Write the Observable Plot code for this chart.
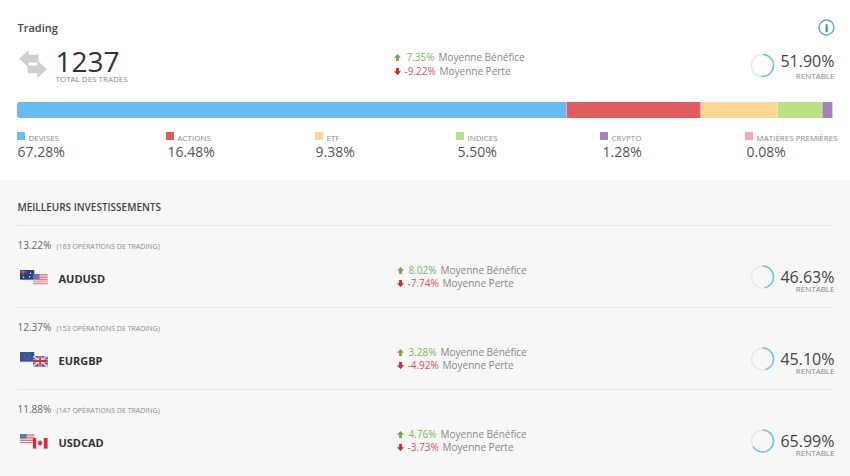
<!DOCTYPE html>
<html lang="fr"><head><meta charset="utf-8">
<script src="https://cdn.jsdelivr.net/npm/d3@7"></script>
<script src="https://cdn.jsdelivr.net/npm/@observablehq/plot@0.6"></script>
<style>html,body{margin:0;padding:0;background:#fff;overflow:hidden}svg{display:block}</style>
</head><body><div id="chart"></div>
<script>
// ---- data
const assetClasses = ["DEVISES","ACTIONS","ETF","INDICES","CRYPTO","MATIÈRES PREMIÈRES"];
const assetShares = [67.28,16.48,9.38,5.50,1.28,0.08];
const assetColors = ["#68bcf2","#e05c60","#fbd995","#bde084","#a383bf","#f9a3c8"];
const totalTrades = 1237;
const overallGain = 7.35, overallLoss = -9.22, overallProfitable = 51.90;
const pairs = ["AUDUSD","EURGBP","USDCAD"];
const pairShares = [13.22,12.37,11.88];
const pairOperations = [163,153,147];
const pairGains = [8.02,3.28,4.76];
const pairLosses = [-7.74,-4.92,-3.73];
const pairProfitable = [46.63,45.10,65.99];

// ---- layout (page pixels)
const W = 850, H = 476, L = 17, R = 833;
const FONT = "'Open Sans', sans-serif";
const X = px => (px - L) * 100 / (R - L);
const legendX = [17,166,315,456,600,745];
const legendValueX = [17,167,315,457,602,746];
const rowStep = 82;
const pct = v => v.toFixed(2) + "%";
const svgUri = s => "data:image/svg+xml;utf8," + encodeURIComponent(`<svg xmlns="http://www.w3.org/2000/svg" ${s}</svg>`);

const txt = (s, px, y, o = {}) => Plot.text([s], {
  x: () => X(px), y: () => y, text: d => d, lineAnchor: "bottom",
  textAnchor: o.anchor ?? "start", fontFamily: FONT, fontSize: o.size ?? 10,
  fontWeight: o.weight ?? 400, fill: o.fill ?? "#888"
});
const img = (src, cx, cy, w, h) => Plot.image([src], {
  x: () => X(cx), y: () => cy, src: d => d, width: w, height: h, preserveAspectRatio: "none"
});

const upIcon = svgUri(`viewBox="0 0 8 8"><path d="M4 0.5L7.5 4.2H5.4V7.5H2.6V4.2H0.5Z" fill="#6fae3d"/>`);
const downIcon = svgUri(`viewBox="0 0 8 8"><path d="M4 7.5L7.5 3.8H5.4V0.5H2.6V3.8H0.5Z" fill="#e0202f"/>`);
const swapIcon = svgUri(`viewBox="0 0 30 30"><path d="M0 9L10 0V5H20V13H10V18Z" fill="#cfcfcf"/><path d="M29 20L19 29V24H9V16H19V11Z" fill="#cfcfcf"/>`);

const flagArt = {
  AUD: `<rect width="16" height="11" fill="#2b3f87"/><path d="M0 2.6H7M3.5 0V5.4" stroke="#d9566a" stroke-width="1.3"/><circle cx="12" cy="4" r=".8" fill="#fff"/><circle cx="11" cy="8" r=".8" fill="#fff"/><circle cx="4" cy="8.4" r=".9" fill="#fff"/>`,
  USD: `<rect width="16" height="11" fill="#fff"/><path d="M0 .8H16M0 2.5H16M0 4.2H16M0 5.9H16M0 7.6H16M0 9.8H16" stroke="#e0616a" stroke-width="1"/><rect width="7.5" height="5.6" fill="#5a79b8"/>`,
  EUR: `<rect width="16" height="11" fill="#34569c"/><circle cx="8" cy="5.5" r="3" fill="none" stroke="#8ea27a" stroke-width=".6" stroke-dasharray="1 1"/>`,
  GBP: `<rect width="16" height="11" fill="#3a4f94"/><path d="M0 0L16 11M16 0L0 11" stroke="#fff" stroke-width="2"/><path d="M0 0L16 11M16 0L0 11" stroke="#d9566a" stroke-width=".7"/><path d="M8 0V11M0 5.5H16" stroke="#fff" stroke-width="3.2"/><path d="M8 0V11M0 5.5H16" stroke="#d62b3b" stroke-width="1.8"/>`,
  CAD: `<rect width="16" height="11" fill="#fff"/><rect width="4" height="11" fill="#dd2b33"/><rect x="12" width="4" height="11" fill="#dd2b33"/><path d="M8 2.2L9 4L10.3 3.7L9.8 6L10.6 6.3L8.3 7.9V8.9H7.7V7.9L5.4 6.3L6.2 6L5.7 3.7L7 4Z" fill="#dd2b33"/>`
};
const flagIcon = art => svgUri(`viewBox="0 0 17 12"><rect x=".6" y=".8" width="16" height="11" fill="#000" opacity=".18"/>${art}`);

// ---- segments of the stacked bar
const ends = Array.from(d3.cumsum(assetShares));
const segments = assetClasses.map((name, i) => ({name, start: i ? ends[i - 1] : 0, end: ends[i], color: assetColors[i]}));

const gauge = (value, cx, cy) => {
  const r = 11, c = 2 * Math.PI * r, arc = value / 100 * c;
  return [
    Plot.dot([value], {x: () => X(cx), y: () => cy, r, stroke: "#e9e9e9", strokeWidth: 1.5, fill: "none"}),
    Plot.dot([value], {x: () => X(cx), y: () => cy, r, stroke: "#72c0f3", strokeWidth: 1.5, fill: "none",
      strokeDasharray: `${arc} ${c - arc}`, strokeDashoffset: c / 4})
  ];
};
const averages = (gain, loss, iconX, yTop, yBot, gainX, lossX, gainLabelX, lossLabelX) => [
  img(upIcon, iconX, yTop - 3, 8, 8),
  img(downIcon, iconX, yBot - 3, 8, 8),
  txt(pct(gain), gainX, yTop, {fill: "#7cb95a", size: 10}),
  txt(pct(loss), lossX, yBot, {fill: "#e2505f", size: 10}),
  txt("Moyenne Bénéfice", gainLabelX, yTop, {size: 10}),
  txt("Moyenne Perte", lossLabelX, yBot, {size: 10})
];

const marks = [
  // panel below the summary
  Plot.rect([0], {x1: () => X(0), x2: () => X(W), y1: () => 180, y2: () => H, fill: "#f7f7f7"}),

  // header
  txt("Trading", 17, 31, {size: 11, weight: 600, fill: "#444"}),
  Plot.dot([0], {x: () => X(826), y: () => 27, r: 7.5, stroke: "#5aa6dc", strokeWidth: 1.3, fill: "none"}),
  txt("i", 826, 31, {size: 11, weight: 800, fill: "#3f8fca", anchor: "middle"}),
  img(swapIcon, 33, 64, 29, 29),
  txt(String(totalTrades), 55, 71.5, {size: 28, fill: "#333"}),
  txt("TOTAL DES TRADES", 55, 81, {size: 8, fill: "#8a8a8a"}),
  ...averages(overallGain, overallLoss, 397, 60, 74, 406, 404, 438, 439),
  ...gauge(overallProfitable, 762, 65),
  txt(pct(overallProfitable), 834, 66, {size: 16, fill: "#444", anchor: "end"}),
  txt("RENTABLE", 834, 78, {size: 8, anchor: "end"}),

  // stacked bar
  Plot.rect(segments.slice(0, 1), {x1: "start", x2: "end", y1: () => 102, y2: () => 118, fill: "color", rx: 3}),
  Plot.rect(segments.slice(0, 1), {x1: d => d.end / 2, x2: "end", y1: () => 102, y2: () => 118, fill: "color"}),
  Plot.rect(segments.slice(1), {x1: "start", x2: "end", y1: () => 102, y2: () => 118, fill: "color", insetLeft: 0.5}),

  // legend
  Plot.rect(segments, {x1: (d, i) => X(legendX[i]), x2: (d, i) => X(legendX[i] + 8), y1: () => 132, y2: () => 140, fill: "color"}),
  ...assetClasses.flatMap((name, i) => [
    txt(name, legendX[i] + 11, 140, {size: 8, fill: "#8a8a8a"}),
    txt(pct(assetShares[i]), legendValueX[i], 156, {size: 14, fill: "#555"})
  ]),

  // best investments
  txt("MEILLEURS INVESTISSEMENTS", 17, 210, {size: 10, weight: 600, fill: "#444"}),
  Plot.ruleY([225, 307, 389], {x1: () => X(17), x2: () => X(833), stroke: "#e6e6e6", strokeWidth: 1}),
  ...pairs.flatMap((pair, i) => {
    const o = i * rowStep;
    return [
      txt(pct(pairShares[i]), 17, 248 + o, {size: 10, fill: "#666"}),
      txt(`(${pairOperations[i]} OPÉRATIONS DE TRADING)`, 56, 248 + o, {size: 7, fill: "#8a8a8a"}),
      img(flagIcon(flagArt[pair.slice(0, 3)]), 27, 274.5 + o, 15, 11),
      img(flagIcon(flagArt[pair.slice(3)]), 40, 279 + o, 16, 12),
      txt(pair, 58, 282 + o, {size: 11, weight: 700, fill: "#333"}),
      ...averages(pairGains[i], pairLosses[i], 400, 273 + o, 286 + o, 408, 407, 440, 442),
      ...gauge(pairProfitable[i], 762, 276.5 + o),
      txt(pct(pairProfitable[i]), 834, 282 + o, {size: 16, fill: "#444", anchor: "end"}),
      txt("RENTABLE", 834, 291 + o, {size: 8, anchor: "end"})
    ];
  })
];

const chart = Plot.plot({
  width: W, height: H, margin: 0,
  style: {background: "#fff", fontFamily: FONT},
  x: {type: "linear", domain: [0, 100], range: [L, R], axis: null},
  y: {type: "linear", domain: [0, H], range: [0, H], axis: null},
  color: {type: "identity"},
  marks
});
document.getElementById("chart").append(chart);
</script></body></html>
